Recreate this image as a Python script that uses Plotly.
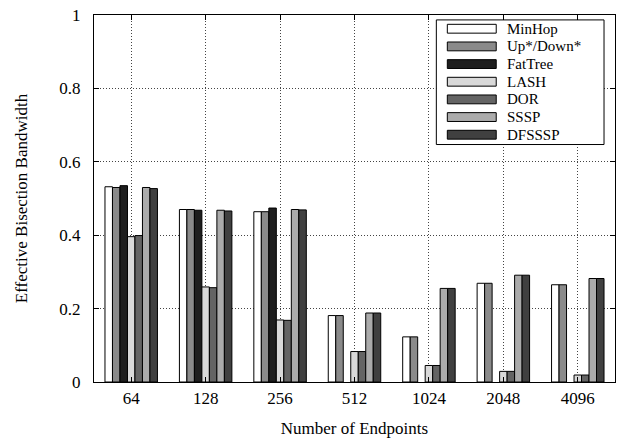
import plotly.graph_objects as go

# Effective bisection bandwidth per routing algorithm and network size
endpoints = ["64", "128", "256", "512", "1024", "2048", "4096"]

minhop = [0.532, 0.470, 0.464, 0.181, 0.123, 0.269, 0.265]
updown = [0.530, 0.470, 0.464, 0.181, 0.123, 0.269, 0.265]
fattree = [0.535, 0.468, 0.474, None, None, None, None]
lash = [0.396, 0.259, 0.169, 0.083, 0.045, 0.029, 0.019]
dor = [0.399, 0.257, 0.168, 0.083, 0.045, 0.029, 0.019]
sssp = [0.530, 0.468, 0.470, 0.188, 0.255, 0.291, 0.282]
dfsssp = [0.527, 0.466, 0.469, 0.188, 0.255, 0.291, 0.282]

series = [
    ("MinHop", minhop, "#ffffff"),
    ("Up*/Down*", updown, "#8a8a8a"),
    ("FatTree", fattree, "#1e1e1e"),
    ("LASH", lash, "#d9d9d9"),
    ("DOR", dor, "#646464"),
    ("SSSP", sssp, "#ababab"),
    ("DFSSSP", dfsssp, "#404040"),
]

W, H = 622, 440
L, R, T, B = 94, 6, 10, 56
PW, PH = W - L - R, H - T - B
FONT = "Liberation Serif"


def px(x):
    return (x - L) / PW


def py(y):
    return (H - B - y) / PH


fig = go.Figure()
for name, vals, color in series:
    fig.add_trace(go.Bar(
        x=endpoints, y=vals, name=name,
        marker=dict(color=color, line=dict(color="#000000", width=1)),
        showlegend=False,
    ))

# boxed key in the upper right corner
shapes = [dict(type="rect", xref="paper", yref="paper",
               x0=px(437), x1=px(605), y0=py(142), y1=py(15),
               fillcolor="white", line=dict(color="black", width=1), layer="above")]
annotations = []
for i, (name, _, color) in enumerate(series):
    yc = 24 + 18 * i
    shapes.append(dict(type="rect", xref="paper", yref="paper",
                       x0=px(448), x1=px(497), y0=py(yc + 4.5), y1=py(yc - 4.5),
                       fillcolor=color, line=dict(color="black", width=1), layer="above"))
    annotations.append(dict(xref="paper", yref="paper", x=px(507), y=py(yc),
                            text=name, showarrow=False, xanchor="left", yanchor="middle",
                            borderpad=0,
                            font=dict(family=FONT, size=15, color="black")))

fig.update_layout(
    width=W, height=H,
    margin=dict(l=L, r=R, t=T, b=B, pad=0),
    paper_bgcolor="white", plot_bgcolor="white",
    barmode="group", bargap=0.295, bargroupgap=0,
    font=dict(family=FONT, size=17, color="black"),
    shapes=shapes, annotations=annotations,
)
fig.update_xaxes(
    title=dict(text="Number of Endpoints", font=dict(family=FONT, size=17), standoff=14),
    showline=True, linecolor="black", linewidth=1, mirror="ticks",
    ticks="inside", ticklen=5, tickcolor="black",
    showgrid=True, gridcolor="#444444", griddash="1px,2px", gridwidth=1,
    tickfont=dict(family=FONT, size=17), ticklabelstandoff=1,
)
fig.update_yaxes(
    title=dict(text="Effective Bisection Bandwidth", font=dict(family=FONT, size=17), standoff=27),
    range=[0, 1], dtick=0.2,
    showline=True, linecolor="black", linewidth=1, mirror="ticks",
    ticks="inside", ticklen=5, tickcolor="black",
    showgrid=True, gridcolor="#444444", griddash="1px,2px", gridwidth=1,
    zeroline=False, tickfont=dict(family=FONT, size=17), ticklabelstandoff=9,
)

fig.write_html("out.html")
